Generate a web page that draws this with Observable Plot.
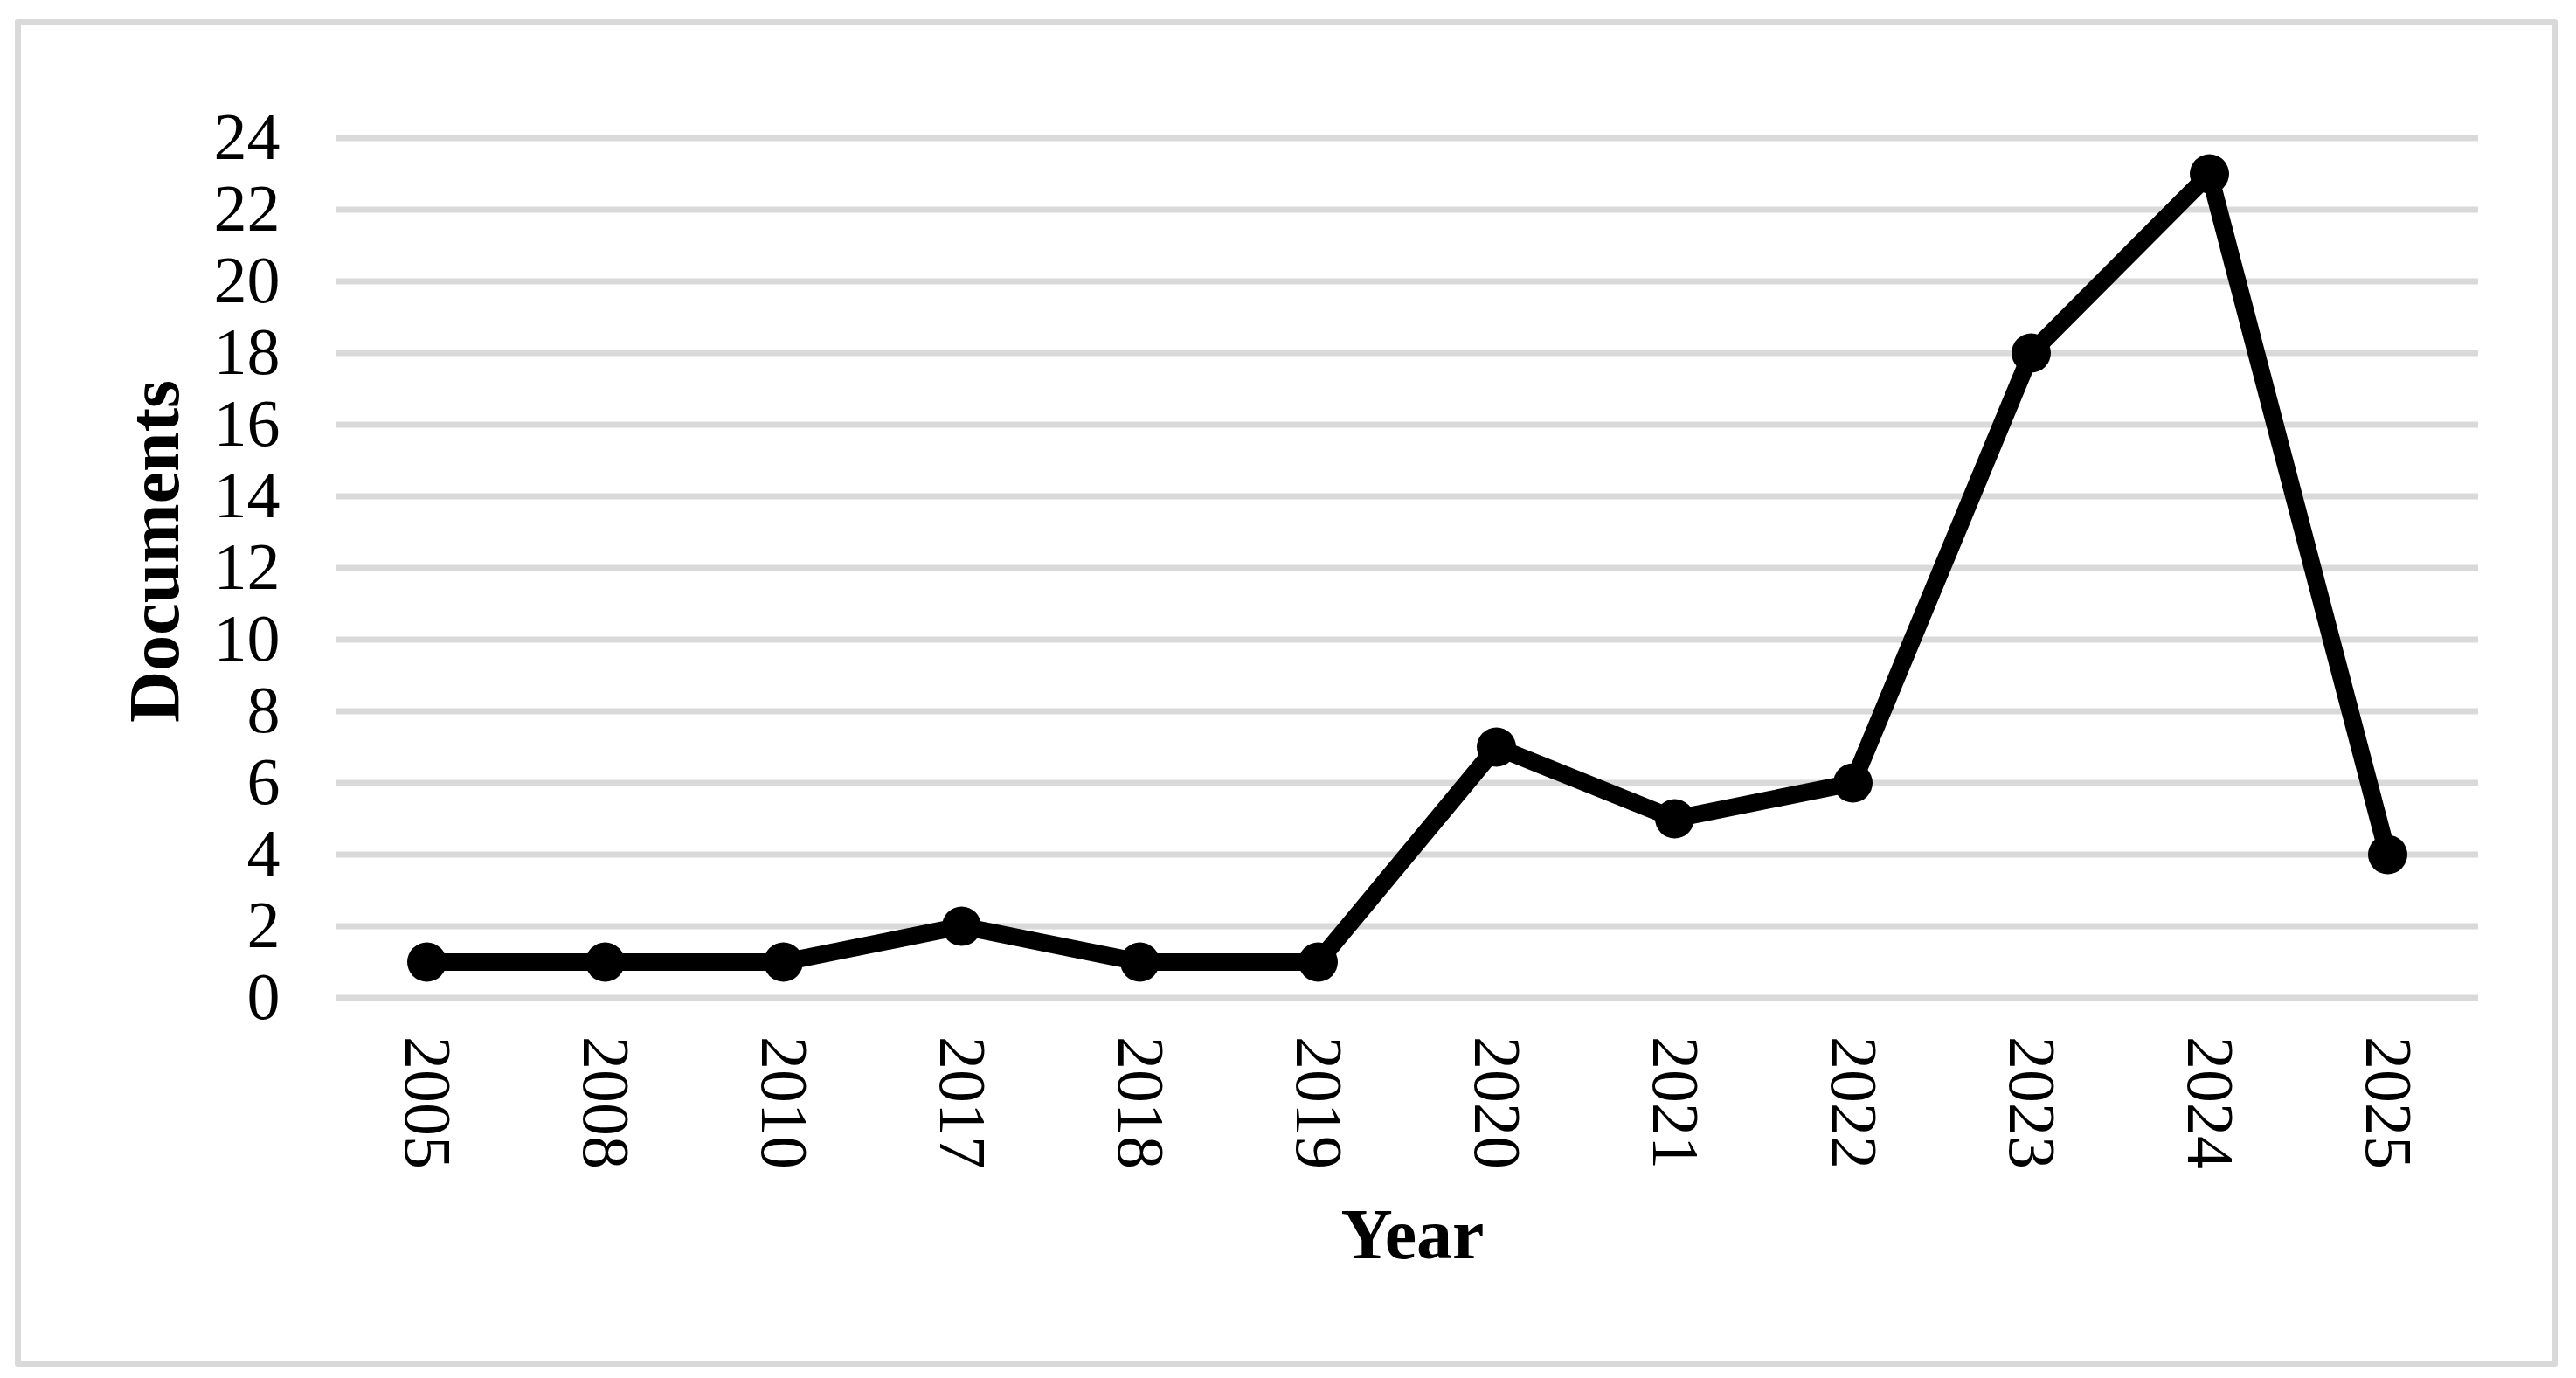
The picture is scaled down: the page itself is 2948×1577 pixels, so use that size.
<!DOCTYPE html>
<html>
<head>
<meta charset="utf-8">
<script src="https://cdn.jsdelivr.net/npm/d3@7"></script>
<script src="https://cdn.jsdelivr.net/npm/@observablehq/plot@0.6"></script>
<style>
  html, body { margin: 0; padding: 0; background: #ffffff; }
  #wrap { position: relative; width: 2948px; height: 1577px; overflow: hidden; }
  #frame { position: absolute; left: 17px; top: 22px; width: 2910px; height: 1542px;
           box-sizing: border-box; border: 7px solid #d9d9d9; border-radius: 3px; }
  #chart { position: absolute; left: 0; top: 0; }
</style>
</head>
<body>
<div id="wrap"><div id="frame"></div><div id="chart"></div></div>
<script>
// Data
const years = ["2005", "2008", "2010", "2017", "2018", "2019", "2020", "2021", "2022", "2023", "2024", "2025"];
const documents = [1, 1, 1, 2, 1, 1, 7, 5, 6, 18, 23, 4];
const yTicks = [0, 2, 4, 6, 8, 10, 12, 14, 16, 18, 20, 22, 24];
const xTitle = "Year";
const yTitle = "Documents";

const table = years.map((year, i) => ({year, docs: documents[i]}));

const chart = Plot.plot({
  width: 2948,
  height: 1577,
  marginLeft: 384,
  marginRight: 112,
  marginTop: 157.5,
  marginBottom: 435.5,
  style: {fontFamily: "'Liberation Serif', 'Times New Roman', serif", fontSize: "76px", color: "#000", background: "transparent", overflow: "visible"},
  x: {type: "point", domain: years, padding: 0.5, label: null},
  y: {domain: [0, 24], label: null},
  marks: [
    Plot.ruleY(yTicks, {stroke: "#d9d9d9", strokeWidth: 7}),
    Plot.axisY({ticks: yTicks, tickSize: 0, tickPadding: 64, fontSize: 76, label: null, fill: "#000"}),
    Plot.axisX({tickSize: 0, tickRotate: 90, tickPadding: 44, textAnchor: "start", lineAnchor: "middle", fontSize: 76, label: null, fill: "#000"}),
    Plot.line(table, {x: "year", y: "docs", stroke: "#000", strokeWidth: 20, strokeLinejoin: "miter", strokeLinecap: "butt"}),
    Plot.dot(table, {x: "year", y: "docs", r: 22.5, fill: "#000", stroke: "none"}),
    Plot.text([yTitle], {frameAnchor: "left", rotate: -90, textAnchor: "middle", lineAnchor: "bottom", dx: -181, dy: -19, fontSize: 82, fontWeight: "bold", fill: "#000"}),
    Plot.text([xTitle], {frameAnchor: "bottom", textAnchor: "middle", lineAnchor: "bottom", dx: 6, dy: 297.5, fontSize: 82, fontWeight: "bold", fill: "#000"})
  ]
});
document.getElementById("chart").appendChild(chart);
</script>
</body>
</html>
